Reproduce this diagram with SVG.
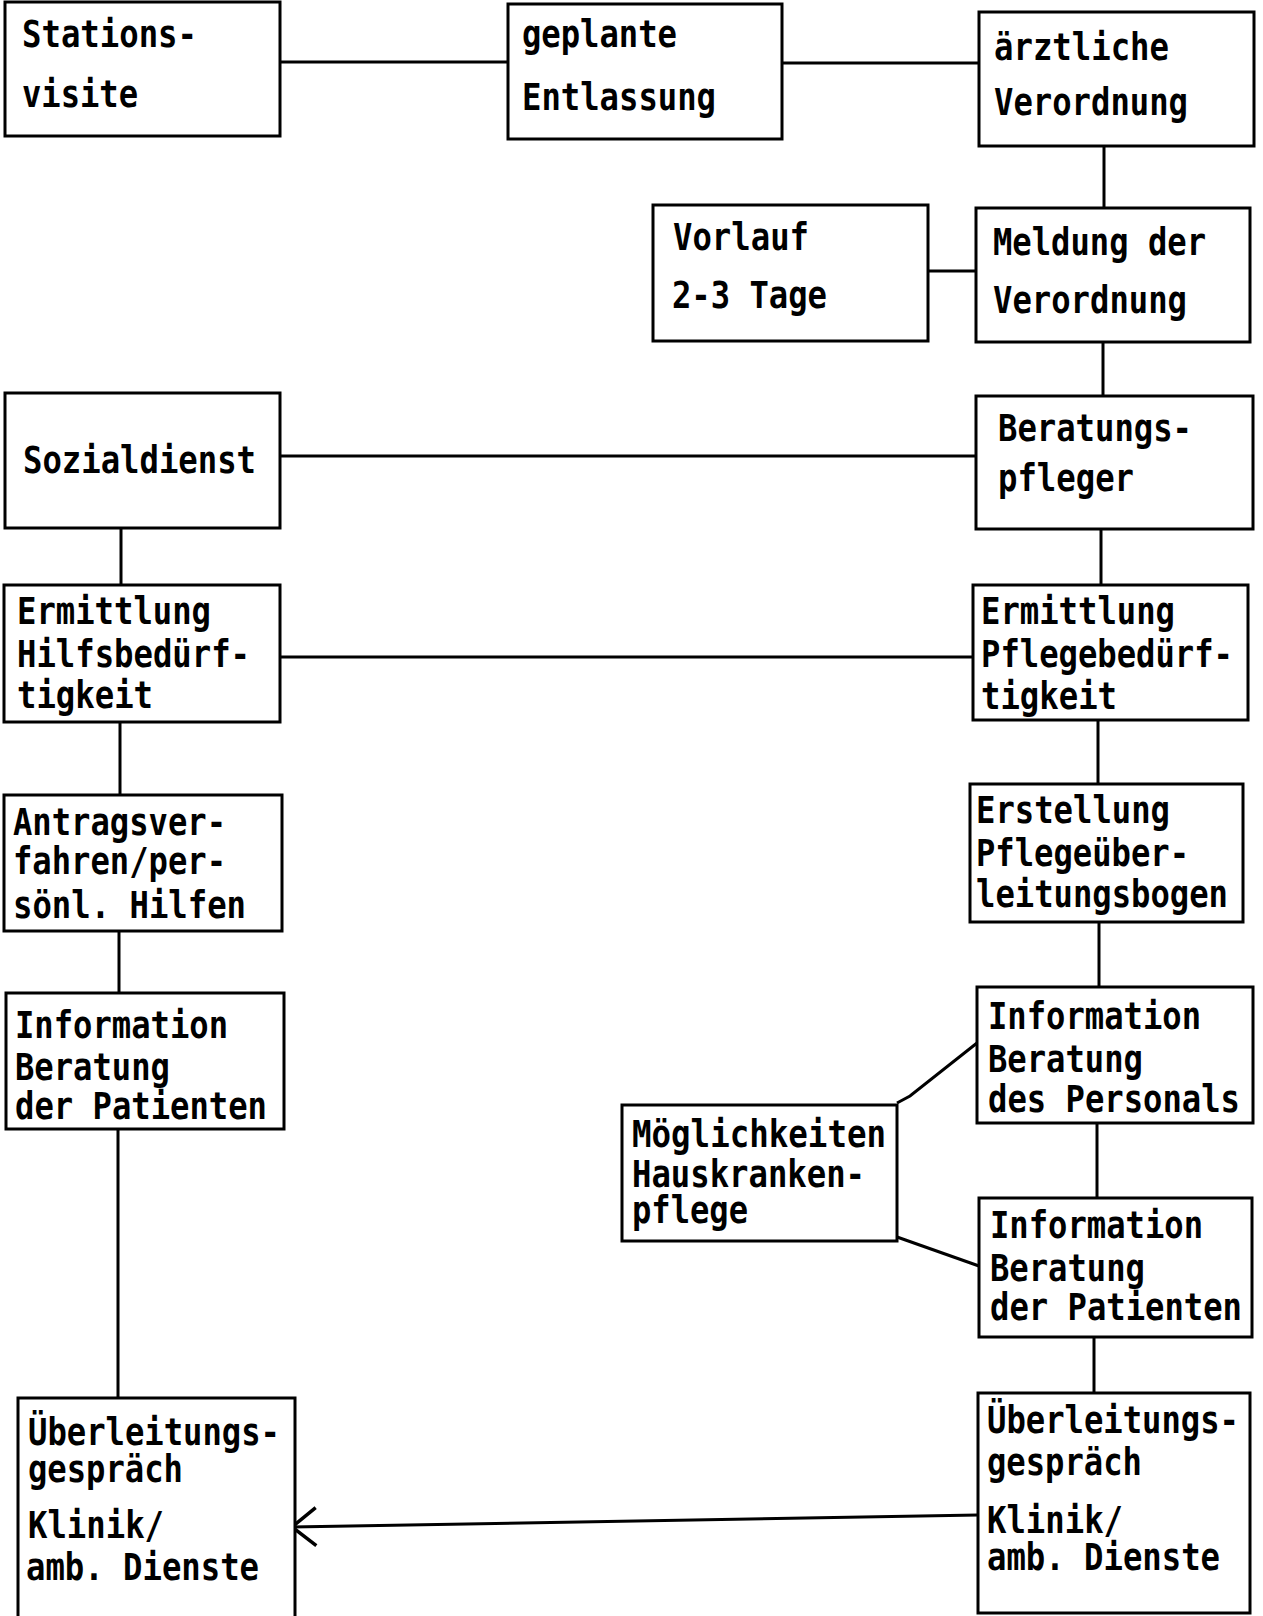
<svg xmlns="http://www.w3.org/2000/svg" width="1263" height="1616" viewBox="0 0 1263 1616">
<style>
.box{fill:#fff;stroke:#000;stroke-width:3}
.c{fill:none;stroke:#000;stroke-width:3}
text{font-family:"DejaVu Sans Mono","Liberation Mono",monospace;font-weight:bold;font-size:37px;fill:#000}
</style>
<defs>
<marker id="arr" viewBox="-28 -22 32 44" markerWidth="32" markerHeight="44" refX="0" refY="0" orient="auto" markerUnits="userSpaceOnUse">
<path d="M-24,-19 L0,0 L-24,19" fill="none" stroke="#000" stroke-width="3.5"/>
</marker>
</defs>
<rect width="1263" height="1616" fill="#fff"/>
<g id="connectors">
<line class="c" x1="280" y1="62" x2="508" y2="62"/>
<line class="c" x1="782" y1="63" x2="979" y2="63"/>
<line class="c" x1="1104" y1="146" x2="1104" y2="208"/>
<line class="c" x1="928" y1="271" x2="976" y2="271"/>
<line class="c" x1="1103" y1="342" x2="1103" y2="396"/>
<line class="c" x1="280" y1="456" x2="976" y2="456"/>
<line class="c" x1="121" y1="528" x2="121" y2="585"/>
<line class="c" x1="1101" y1="529" x2="1101" y2="585"/>
<line class="c" x1="280" y1="657" x2="973" y2="657"/>
<line class="c" x1="120" y1="722" x2="120" y2="795"/>
<line class="c" x1="1098" y1="720" x2="1098" y2="784"/>
<line class="c" x1="119" y1="931" x2="119" y2="993"/>
<line class="c" x1="1099" y1="922" x2="1099" y2="987"/>
<line class="c" x1="118" y1="1129" x2="118" y2="1398"/>
<line class="c" x1="1097" y1="1123" x2="1097" y2="1198"/>
<polyline class="c" points="897,1103 910,1096 977,1043"/>
<line class="c" x1="897" y1="1237" x2="979" y2="1266"/>
<line class="c" x1="1094" y1="1337" x2="1094" y2="1393"/>
<line class="c" x1="978" y1="1515" x2="292" y2="1527" marker-end="url(#arr)"/>
</g>
<g id="n-stationsvisite">
<rect class="box" x="5" y="2" width="275" height="134"/>
<text x="22" y="47" textLength="175" lengthAdjust="spacingAndGlyphs">Stations-</text>
<text x="22" y="107" textLength="116" lengthAdjust="spacingAndGlyphs">visite</text>
</g>
<g id="n-geplante">
<rect class="box" x="508" y="4" width="274" height="135"/>
<text x="522" y="47" textLength="155" lengthAdjust="spacingAndGlyphs">geplante</text>
<text x="522" y="110" textLength="194" lengthAdjust="spacingAndGlyphs">Entlassung</text>
</g>
<g id="n-aerztliche">
<rect class="box" x="979" y="12" width="275" height="134"/>
<text x="994" y="60" textLength="175" lengthAdjust="spacingAndGlyphs">ärztliche</text>
<text x="994" y="115" textLength="194" lengthAdjust="spacingAndGlyphs">Verordnung</text>
</g>
<g id="n-vorlauf">
<rect class="box" x="653" y="205" width="275" height="136"/>
<text x="673" y="250" textLength="136" lengthAdjust="spacingAndGlyphs">Vorlauf</text>
<text x="672" y="308" textLength="155" lengthAdjust="spacingAndGlyphs">2-3 Tage</text>
</g>
<g id="n-meldung">
<rect class="box" x="976" y="208" width="274" height="134"/>
<text x="993" y="255" textLength="213" lengthAdjust="spacingAndGlyphs">Meldung der</text>
<text x="993" y="313" textLength="194" lengthAdjust="spacingAndGlyphs">Verordnung</text>
</g>
<g id="n-sozialdienst">
<rect class="box" x="5" y="393" width="275" height="135"/>
<text x="23" y="473" textLength="233" lengthAdjust="spacingAndGlyphs">Sozialdienst</text>
</g>
<g id="n-beratungspfleger">
<rect class="box" x="976" y="396" width="277" height="133"/>
<text x="998" y="441" textLength="194" lengthAdjust="spacingAndGlyphs">Beratungs-</text>
<text x="998" y="491" textLength="136" lengthAdjust="spacingAndGlyphs">pfleger</text>
</g>
<g id="n-ermittlung-hilfs">
<rect class="box" x="4" y="585" width="276" height="137"/>
<text x="17" y="624" textLength="194" lengthAdjust="spacingAndGlyphs">Ermittlung</text>
<text x="17" y="667" textLength="233" lengthAdjust="spacingAndGlyphs">Hilfsbedürf-</text>
<text x="17" y="708" textLength="136" lengthAdjust="spacingAndGlyphs">tigkeit</text>
</g>
<g id="n-ermittlung-pflege">
<rect class="box" x="973" y="585" width="275" height="135"/>
<text x="981" y="624" textLength="194" lengthAdjust="spacingAndGlyphs">Ermittlung</text>
<text x="981" y="667" textLength="252" lengthAdjust="spacingAndGlyphs">Pflegebedürf-</text>
<text x="981" y="709" textLength="136" lengthAdjust="spacingAndGlyphs">tigkeit</text>
</g>
<g id="n-antrag">
<rect class="box" x="4" y="795" width="278" height="136"/>
<text x="13" y="835" textLength="213" lengthAdjust="spacingAndGlyphs">Antragsver-</text>
<text x="13" y="874" textLength="213" lengthAdjust="spacingAndGlyphs">fahren/per-</text>
<text x="13" y="918" textLength="233" lengthAdjust="spacingAndGlyphs">sönl. Hilfen</text>
</g>
<g id="n-erstellung">
<rect class="box" x="970" y="784" width="273" height="138"/>
<text x="976" y="823" textLength="194" lengthAdjust="spacingAndGlyphs">Erstellung</text>
<text x="976" y="866" textLength="213" lengthAdjust="spacingAndGlyphs">Pflegeüber-</text>
<text x="976" y="907" textLength="252" lengthAdjust="spacingAndGlyphs">leitungsbogen</text>
</g>
<g id="n-info-patienten-links">
<rect class="box" x="6" y="993" width="278" height="136"/>
<text x="15" y="1038" textLength="213" lengthAdjust="spacingAndGlyphs">Information</text>
<text x="15" y="1080" textLength="155" lengthAdjust="spacingAndGlyphs">Beratung</text>
<text x="15" y="1119" textLength="252" lengthAdjust="spacingAndGlyphs">der Patienten</text>
</g>
<g id="n-info-personal">
<rect class="box" x="977" y="987" width="276" height="136"/>
<text x="988" y="1029" textLength="213" lengthAdjust="spacingAndGlyphs">Information</text>
<text x="988" y="1072" textLength="155" lengthAdjust="spacingAndGlyphs">Beratung</text>
<text x="988" y="1112" textLength="252" lengthAdjust="spacingAndGlyphs">des Personals</text>
</g>
<g id="n-moeglichkeiten">
<rect class="box" x="622" y="1105" width="275" height="136"/>
<text x="632" y="1147" textLength="254" lengthAdjust="spacingAndGlyphs">Möglichkeiten</text>
<text x="632" y="1187" textLength="233" lengthAdjust="spacingAndGlyphs">Hauskranken-</text>
<text x="632" y="1223" textLength="116" lengthAdjust="spacingAndGlyphs">pflege</text>
</g>
<g id="n-info-patienten-rechts">
<rect class="box" x="979" y="1198" width="273" height="139"/>
<text x="990" y="1238" textLength="213" lengthAdjust="spacingAndGlyphs">Information</text>
<text x="990" y="1281" textLength="155" lengthAdjust="spacingAndGlyphs">Beratung</text>
<text x="990" y="1320" textLength="252" lengthAdjust="spacingAndGlyphs">der Patienten</text>
</g>
<g id="n-ueberleitung-links">
<rect class="box" x="18" y="1398" width="277" height="230"/>
<text x="28" y="1445" textLength="252" lengthAdjust="spacingAndGlyphs">Überleitungs-</text>
<text x="28" y="1482" textLength="155" lengthAdjust="spacingAndGlyphs">gespräch</text>
<text x="28" y="1538" textLength="136" lengthAdjust="spacingAndGlyphs">Klinik/</text>
<text x="26" y="1580" textLength="233" lengthAdjust="spacingAndGlyphs">amb. Dienste</text>
</g>
<g id="n-ueberleitung-rechts">
<rect class="box" x="978" y="1393" width="272" height="220"/>
<text x="987" y="1433" textLength="252" lengthAdjust="spacingAndGlyphs">Überleitungs-</text>
<text x="987" y="1475" textLength="155" lengthAdjust="spacingAndGlyphs">gespräch</text>
<text x="987" y="1533" textLength="136" lengthAdjust="spacingAndGlyphs">Klinik/</text>
<text x="987" y="1570" textLength="233" lengthAdjust="spacingAndGlyphs">amb. Dienste</text>
</g>
</svg>
